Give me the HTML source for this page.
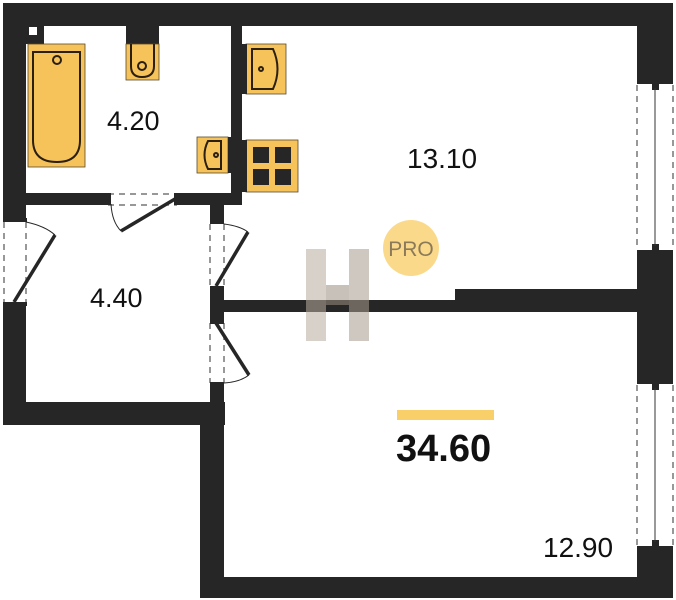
<!DOCTYPE html>
<html><head><meta charset="utf-8"><style>
html,body{margin:0;padding:0;background:#fff;width:676px;height:600px;overflow:hidden}
text{font-family:"Liberation Sans",sans-serif;fill:#111}
</style></head><body>
<svg width="676" height="600" viewBox="0 0 676 600" xmlns="http://www.w3.org/2000/svg">
<g fill="#262626">
<!-- top wall -->
<rect x="3" y="3" width="670" height="23"/>
<!-- right wall segments -->
<rect x="637" y="3" width="36" height="79"/>
<rect x="637" y="252" width="36" height="130"/>
<rect x="637" y="548" width="36" height="50"/>
<!-- left wall -->
<rect x="3" y="3" width="23" height="215"/>
<rect x="3" y="304" width="23" height="121"/>
<!-- hall bottom wall -->
<rect x="3" y="402" width="222" height="23"/>
<!-- lower left wall -->
<rect x="200" y="402" width="24" height="196"/>
<!-- bottom wall -->
<rect x="200" y="577" width="473" height="21"/>
<!-- bathroom right wall -->
<rect x="231" y="3" width="11" height="202"/>
<!-- bathroom bottom wall -->
<rect x="26" y="193" width="82" height="12"/>
<rect x="177" y="193" width="65" height="12"/>
<!-- hall right wall -->
<rect x="210" y="193" width="14" height="29"/>
<rect x="210" y="287" width="14" height="34"/>
<rect x="210" y="383" width="14" height="30"/>
<!-- horizontal wall -->
<rect x="210" y="300" width="430" height="12"/>
<rect x="455" y="289" width="185" height="23"/>
<!-- bath corner -->
<rect x="26" y="26" width="18" height="18"/>
<!-- toilet tank -->
<rect x="126" y="26" width="33" height="18"/>
</g>
<rect x="29" y="27" width="8" height="8" fill="#fff"/>
<!-- windows -->
<g stroke="#777" stroke-width="1.5" stroke-dasharray="6,5" fill="none">
<line x1="637" y1="85" x2="637" y2="250"/><line x1="673" y1="85" x2="673" y2="250"/>
<line x1="637" y1="385" x2="637" y2="546"/><line x1="673" y1="385" x2="673" y2="546"/>
<line x1="4" y1="222" x2="4" y2="302"/><line x1="26" y1="222" x2="26" y2="302"/>
<line x1="210" y1="224" x2="210" y2="287"/><line x1="224" y1="224" x2="224" y2="287"/>
<line x1="210" y1="323" x2="210" y2="383"/><line x1="224" y1="323" x2="224" y2="383"/>
<line x1="108" y1="194" x2="177" y2="194"/><line x1="108" y1="205" x2="177" y2="205"/>
</g>
<g fill="#262626">
<rect x="637" y="80" width="36" height="4"/><rect x="652" y="84" width="7" height="6"/>
<rect x="637" y="250" width="36" height="4"/><rect x="652" y="244" width="7" height="6"/>
<rect x="637" y="380" width="36" height="4"/><rect x="652" y="384" width="7" height="6"/>
<rect x="637" y="546" width="36" height="4"/><rect x="652" y="540" width="7" height="6"/>
<rect x="3" y="218" width="24" height="4"/><rect x="3" y="302" width="24" height="4"/>
<rect x="210" y="220" width="14" height="4"/><rect x="210" y="286" width="14" height="4"/>
<rect x="210" y="320" width="14" height="4"/><rect x="210" y="382" width="14" height="4"/>
<rect x="106" y="193" width="5" height="12"/><rect x="174" y="193" width="5" height="12"/>
</g>
<line x1="655" y1="88" x2="655" y2="246" stroke="#333" stroke-width="1"/>
<line x1="655" y1="388" x2="655" y2="542" stroke="#333" stroke-width="1"/>
<!-- door leaves -->
<g stroke="#262626" stroke-width="3.5" fill="none">
<line x1="14" y1="302" x2="55" y2="235"/>
<line x1="216" y1="286" x2="248" y2="232"/>
<line x1="216" y1="323" x2="249" y2="375"/>
<line x1="175" y1="199" x2="121" y2="231"/>
</g>
<g stroke="#262626" stroke-width="1" fill="none">
<path d="M26 222 Q45 226 55 235"/>
<path d="M224 224 Q240 226 248 232"/>
<path d="M224 383 Q240 382 249 375"/>
<path d="M111 204 Q112 222 121 231"/>
</g>
<!-- fixtures -->
<g fill="#f6c35a" stroke="#5a4a2a" stroke-width="0.8">
<rect x="28" y="44" width="57" height="123"/>
<rect x="126" y="44" width="33" height="36"/>
<rect x="197" y="137" width="31" height="36"/>
<rect x="246" y="44" width="40" height="50"/>
<rect x="246" y="140" width="52" height="52"/>
</g>
<rect x="242" y="44" width="5" height="50" fill="#262626"/>
<rect x="242" y="140" width="5" height="52" fill="#262626"/>
<rect x="228" y="137" width="3" height="36" fill="#262626"/>
<g fill="none" stroke="#2a1f10" stroke-width="2">
<path d="M33 52 H80 V140 Q80 162 57 162 Q33 162 33 140 Z"/>
<circle cx="57" cy="60" r="4"/>
<path d="M131 44 V66 Q131 77 142 77 Q154 77 154 66 V44"/>
<circle cx="142" cy="66" r="4"/>
<path d="M221 141 H208 Q201 155 208 169 H221 Z"/>
<circle cx="216" cy="155" r="2"/>
<path d="M252 49 H273 Q282 69 273 89 H252 Z"/>
<circle cx="261" cy="69" r="2"/>
</g>
<g fill="#262626">
<rect x="253" y="147" width="16" height="16"/><rect x="275" y="147" width="16" height="16"/>
<rect x="253" y="169" width="16" height="16"/><rect x="275" y="169" width="16" height="16"/>
</g>
<!-- watermark -->
<g opacity="0.55">
<rect x="306" y="249" width="20" height="92" fill="#b8ada0"/>
<rect x="349" y="249" width="20" height="92" fill="#a89c8e"/>
<rect x="326" y="285" width="23" height="20" fill="#9b8f80"/>
</g>
<circle cx="411" cy="248" r="28" fill="#fbd98a"/>
<text x="411" y="256" font-size="21" text-anchor="middle" fill="#8a7a5a" style="fill:#8a7a5a">PRO</text>
<rect x="397" y="410" width="97" height="10" fill="#f8cf68"/>
<text x="107" y="130" font-size="27">4.20</text>
<text x="407" y="168" font-size="28">13.10</text>
<text x="90" y="307" font-size="27">4.40</text>
<text x="396" y="461" font-size="38" font-weight="bold">34.60</text>
<text x="543" y="557" font-size="28">12.90</text>
</svg>
</body></html>
